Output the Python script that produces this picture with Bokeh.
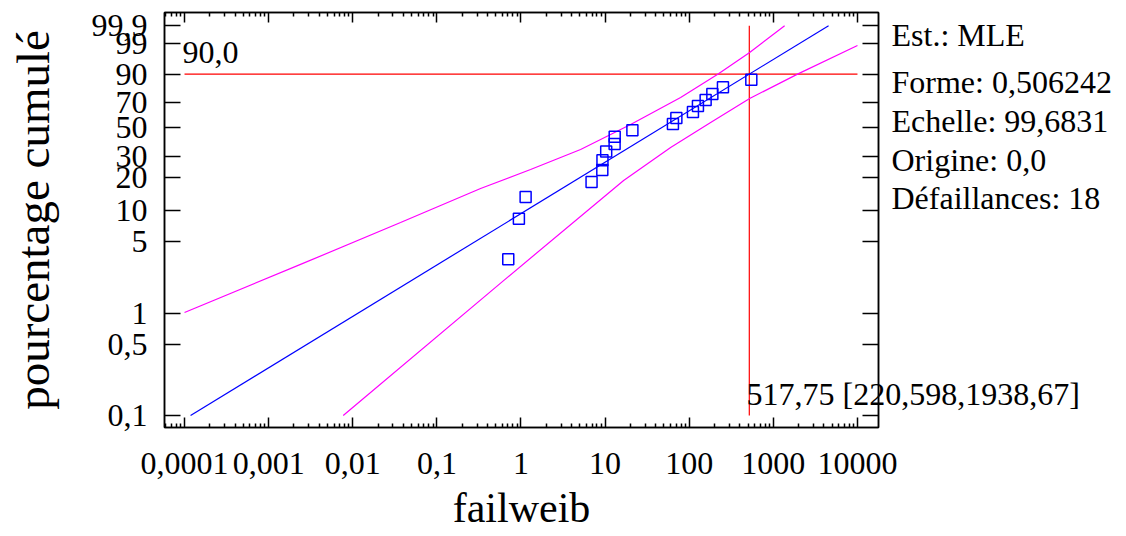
import numpy as np
from bokeh.plotting import figure
from bokeh.models import Range1d, FixedTicker, LinearAxis, LogAxis, Label
from bokeh.embed import file_html
from bokeh.resources import INLINE

# ---------------- data ----------------
fail_t = [0.706, 0.944, 1.135, 6.9, 9.26, 9.3, 10.3, 12.97, 13.0, 21.1,
          64.0, 70.3, 110.7, 126.9, 156.7, 188.3, 251.7, 547.0]
fail_pct = [3.4, 8.3, 13.2, 18.1, 23.0, 27.9, 32.8, 37.7, 42.6, 47.5,
            52.5, 57.4, 62.3, 67.2, 72.1, 77.0, 81.9, 86.8]

fit_t = [0.000118, 4536.0]
fit_pct = [0.1, 99.9]

upper_t = [0.0001, 0.002395, 0.03702, 0.3308, 1.300, 5.112, 20.10, 79.0,
           220.598, 522.7, 1362.0]
upper_pct = [1.03, 3.03, 7.65, 15.81, 23.26, 34.08, 52.03, 74.21,
             90.0, 97.67, 99.9]

lower_t = [0.0077, 0.6209, 16.60, 60.09, 179.7, 522.7, 1938.67, 10000.0]
lower_pct = [0.1, 2.11, 18.65, 35.35, 53.64, 73.41, 90.0, 98.78]

h_ref_t = [0.0001, 10000.0]
h_ref_pct = [90.0, 90.0]
v_ref_t = [517.75, 517.75]
v_ref_pct = [0.1, 99.9]

x_ticks = [1e-4, 1e-3, 1e-2, 1e-1, 1.0, 10.0, 100.0, 1000.0, 10000.0]
x_tick_labels = ["0,0001", "0,001", "0,01", "0,1", "1", "10", "100", "1000", "10000"]
y_ticks_pct = [0.1, 0.5, 1, 5, 10, 20, 30, 50, 70, 90, 99, 99.9]
y_tick_labels = ["0,1", "0,5", "1", "5", "10", "20", "30", "50", "70", "90", "99", "99,9"]

info_lines = ["Est.: MLE", "Forme: 0,506242", "Echelle: 99,6831",
              "Origine: 0,0", "Défaillances: 18"]
h_note = "90,0"
v_note = "517,75 [220,598,1938,67]"


def weib(pct):
    return np.log(-np.log(1.0 - np.asarray(pct, dtype=float) / 100.0))


FONT = "Liberation Serif"
W, H = 1126, 536
F_LEFT, F_RIGHT, F_TOP, F_BOTTOM = 164, 878, 12, 427
Y0, Y1 = -7.179, 2.231


def y_at_px(py):
    # vertical screen position (page pixels) -> value on the y range
    return Y1 - (py - F_TOP) * (Y1 - Y0) / (F_BOTTOM - F_TOP)


p = figure(width=W, height=H, x_axis_type="log",
           x_range=Range1d(10 ** -4.238, 10 ** 4.25),
           y_range=Range1d(Y0, Y1),
           output_backend="svg", toolbar_location=None,
           min_border_left=F_LEFT, min_border_right=W - F_RIGHT,
           min_border_top=F_TOP, min_border_bottom=H - F_BOTTOM)
p.grid.visible = False
p.outline_line_color = "black"
p.outline_line_width = 1.5
p.background_fill_color = "white"
p.border_fill_color = "white"

minor = [k * 10.0 ** d for d in range(-5, 5) for k in range(2, 10)]
xt = FixedTicker(ticks=x_ticks, minor_ticks=minor)
yt_vals = [float(v) for v in weib(y_ticks_pct)]
yt = FixedTicker(ticks=yt_vals, minor_ticks=[])

xa = p.xaxis[0]
xa.ticker = xt
xa.major_label_overrides = {t: l for t, l in zip(x_ticks, x_tick_labels)}
ya = p.yaxis[0]
ya.ticker = yt
ya.major_label_overrides = {t: l for t, l in zip(yt_vals, y_tick_labels)}

for ax in (xa, ya):
    ax.major_label_text_font = FONT
    ax.major_label_text_font_size = "32px"
    ax.major_label_text_color = "black"
    ax.axis_line_color = "black"
    ax.axis_line_width = 1.5
    ax.major_tick_line_width = 1.5
    ax.minor_tick_line_width = 1.5
    ax.major_tick_out = 0
    ax.minor_tick_out = 0
    ax.axis_label_text_font = FONT
    ax.axis_label_text_font_style = "normal"
    ax.axis_label_text_color = "black"
xa.major_tick_in = 10
xa.minor_tick_in = 4
xa.major_label_standoff = 25
xa.axis_label = "failweib"
xa.axis_label_text_font_size = "42px"
xa.axis_label_standoff = 8
ya.major_tick_in = 16
ya.major_label_standoff = 17
ya.axis_label = "pourcentage cumulé"
ya.axis_label_text_font_size = "47px"
ya.axis_label_standoff = 30

top = LogAxis(ticker=xt, major_label_text_font_size="1px",
              major_label_text_color=None,
              major_tick_in=10, major_tick_out=0, minor_tick_in=4,
              minor_tick_out=0, major_label_standoff=0,
              axis_line_width=1.5, major_tick_line_width=1.5,
              minor_tick_line_width=1.5)
p.add_layout(top, "above")
right = LinearAxis(ticker=yt, major_label_text_font_size="1px",
                   major_label_text_color=None,
                   major_tick_in=16, major_tick_out=0, minor_tick_in=0,
                   minor_tick_out=0, major_label_standoff=0,
                   axis_line_width=1.5, major_tick_line_width=1.5)
p.add_layout(right, "right")

# note of the reference lines, written as the label of an extra right axis
note_tick = [y_at_px(393)]
note_ax = LinearAxis(ticker=FixedTicker(ticks=note_tick, minor_ticks=[]),
                     major_label_overrides={note_tick[0]: v_note},
                     major_label_text_font=FONT, major_label_text_font_size="32px",
                     major_label_text_color="black", major_label_standoff=-132,
                     axis_line_color=None, major_tick_line_color=None,
                     minor_tick_line_color=None, major_tick_in=0, major_tick_out=0)
p.add_layout(note_ax, "right")

# estimation summary, written as the labels of an extra right axis
info_ticks = [y_at_px(v) for v in (34, 81, 120, 159, 197)]
info_ax = LinearAxis(ticker=FixedTicker(ticks=info_ticks, minor_ticks=[]),
                     major_label_overrides={t: s for t, s in zip(info_ticks, info_lines)},
                     major_label_text_font=FONT, major_label_text_font_size="32px",
                     major_label_text_color="black", major_label_standoff=-191,
                     axis_line_color=None, major_tick_line_color=None,
                     minor_tick_line_color=None, major_tick_in=0, major_tick_out=0)
p.add_layout(info_ax, "right")

# reference lines
p.line(h_ref_t, weib(h_ref_pct), line_color="red", line_width=1.2)
p.line(v_ref_t, weib(v_ref_pct), line_color="red", line_width=1.2)

# confidence limits and fit
p.line(upper_t, weib(upper_pct), line_color="magenta", line_width=1.2)
p.line(lower_t, weib(lower_pct), line_color="magenta", line_width=1.2)
p.line(fit_t, weib(fit_pct), line_color="blue", line_width=1.2)

p.scatter(fail_t, weib(fail_pct), marker="square", size=11,
          fill_color=None, line_color="blue", line_width=1.5)

# annotation inside the frame
p.add_layout(Label(text=h_note, x=18, y=375, x_units="screen", y_units="screen",
                   text_font=FONT, text_font_size="32px", text_color="black",
                   text_baseline="middle"))

open("out.html", "w").write(file_html(p, INLINE))
